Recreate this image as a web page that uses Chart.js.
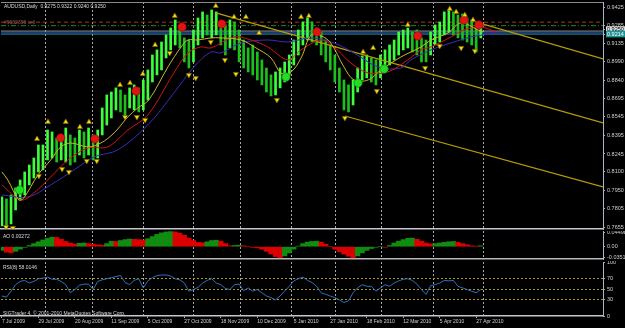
<!DOCTYPE html>
<html>
<head>
<meta charset="utf-8">
<title>AUDUSD,Daily</title>
<script src="https://cdn.jsdelivr.net/npm/chart.js@4.4.1/dist/chart.umd.min.js"></script>
<style>
  html, body { margin: 0; padding: 0; background: #000; }
  body { width: 625px; height: 328px; position: relative; overflow: hidden; font-family: "Liberation Sans", Arial, sans-serif; }
  canvas { position: absolute; left: 0; }
  .lbl { position: absolute; font-size: 5px; line-height: 6px; color: #dcdcdc; white-space: pre; }
</style>
</head>
<body>
<canvas id="mainChart" width="625" height="231" style="top:0"></canvas>
<canvas id="aoChart" width="625" height="30" style="top:231px"></canvas>
<canvas id="rsiChart" width="625" height="67" style="top:261px"></canvas>

<div class="lbl" style="left:4px;top:3px">AUDUSD,Daily  0.9275 0.9322 0.9240 0.9250</div>
<div class="lbl" style="left:4px;top:19px;color:#9a5a50">#9082396 sell</div>
<div class="lbl" style="left:3px;top:233px">AO 0.00272</div>
<div class="lbl" style="left:3px;top:264px">RSI(8) 58.0146</div>
<div class="lbl" style="left:3px;top:310px">SIGTrader 4, © 2001-2010 MetaQuotes Software Corp.</div>

<script>
// x positions are 2-day bar numbers, 0 = 7 Jul 2009
const dateLabels = ['7 Jul 2009', '29 Jul 2009', '20 Aug 2009', '11 Sep 2009', '5 Oct 2009', '27 Oct 2009',
  '18 Nov 2009', '10 Dec 2009', '5 Jan 2010', '27 Jan 2010', '18 Feb 2010', '12 Mar 2010', '5 Apr 2010', '27 Apr 2010'];
const dateTickPos = [0, 8, 16, 24, 32, 40, 48, 56, 64, 72, 80, 88, 96, 104];
const monthStarts = [9.65, 19.96, 31.1, 42.1, 52.4, 63.4, 73.2, 83.3, 94.7, 105.7];

const priceTicks = [0.9425, 0.9285, 0.9135, 0.8990, 0.8840, 0.8695, 0.8545, 0.8395, 0.8245, 0.8100, 0.7950, 0.7805, 0.7655];
const bidPrice = 0.9250;
const linePrice = 0.9214;

const barHigh = [
  0.7898, 0.7882, 0.7914, 0.7971, 0.8035, 0.8100, 0.8156, 0.8213, 0.8318, 0.8318,
  0.8439, 0.8423, 0.8374, 0.8399, 0.8455, 0.8399, 0.8374, 0.8439, 0.8423, 0.8455,
  0.8399, 0.8439, 0.8617, 0.8722, 0.8746, 0.8779, 0.8762, 0.8722, 0.8779, 0.8803,
  0.8779, 0.8843, 0.8924, 0.9045, 0.9086, 0.9150, 0.9207, 0.9263, 0.9328, 0.9263,
  0.9183, 0.9166, 0.9247, 0.9344, 0.9393, 0.9368, 0.9409, 0.9393, 0.9312, 0.9288,
  0.9328, 0.9312, 0.9247, 0.9166, 0.9102, 0.9126, 0.9069, 0.9005, 0.8940, 0.8884,
  0.8908, 0.8940, 0.8989, 0.9045, 0.9166, 0.9247, 0.9312, 0.9344, 0.9312, 0.9263,
  0.9231, 0.9166, 0.9126, 0.9045, 0.8940, 0.8843, 0.8803, 0.8843, 0.8940, 0.9037,
  0.9045, 0.9021, 0.9005, 0.9045, 0.9086, 0.9126, 0.9166, 0.9231, 0.9247, 0.9263,
  0.9231, 0.9247, 0.9183, 0.9166, 0.9231, 0.9288, 0.9312, 0.9393, 0.9409, 0.9393,
  0.9368, 0.9376, 0.9344, 0.9328, 0.9312, 0.9288
];
const barLow = [
  0.7664, 0.7647, 0.7680, 0.7793, 0.7874, 0.7914, 0.7995, 0.8051, 0.8100, 0.8116,
  0.8197, 0.8213, 0.8180, 0.8197, 0.8180, 0.8156, 0.8180, 0.8237, 0.8213, 0.8237,
  0.8197, 0.8213, 0.8399, 0.8479, 0.8536, 0.8601, 0.8585, 0.8560, 0.8617, 0.8601,
  0.8585, 0.8601, 0.8681, 0.8827, 0.8884, 0.8924, 0.9021, 0.9086, 0.9126, 0.9102,
  0.8989, 0.8940, 0.8989, 0.9126, 0.9183, 0.9207, 0.9183, 0.9207, 0.9126, 0.9045,
  0.9102, 0.9086, 0.8989, 0.8940, 0.8908, 0.8884, 0.8843, 0.8803, 0.8746, 0.8714,
  0.8722, 0.8779, 0.8827, 0.8884, 0.8964, 0.9045, 0.9126, 0.9166, 0.9150, 0.9126,
  0.9045, 0.8989, 0.8924, 0.8827, 0.8746, 0.8601, 0.8585, 0.8641, 0.8746, 0.8843,
  0.8860, 0.8827, 0.8803, 0.8860, 0.8908, 0.8964, 0.9005, 0.9045, 0.9086, 0.9102,
  0.9069, 0.9045, 0.8989, 0.8989, 0.9045, 0.9126, 0.9150, 0.9207, 0.9231, 0.9207,
  0.9183, 0.9166, 0.9150, 0.9126, 0.9069, 0.9183
];

// moving averages, [bar, price]
const maYellow = [[0, 0.8100], [1.3, 0.8035], [3.7, 0.7874], [4.8, 0.7890], [7.9, 0.8076], [10.7, 0.8197],
  [12.9, 0.8302], [15.1, 0.8334], [18.9, 0.8302], [21.7, 0.8334], [24.6, 0.8415], [27.6, 0.8544],
  [29.8, 0.8617], [32.2, 0.8681], [36.4, 0.8948], [39.3, 0.9110], [40.8, 0.9166], [43, 0.9166],
  [45.8, 0.9183], [48, 0.9183], [52.4, 0.9166], [55.7, 0.9102], [59, 0.9021], [61.2, 0.8900],
  [63.4, 0.8908], [65.6, 0.9021], [67.8, 0.9207], [70, 0.9199], [72.1, 0.9142], [75, 0.8948],
  [77.2, 0.8843], [80.3, 0.8843], [83.1, 0.8924], [87.5, 0.9029], [91.9, 0.9110], [94.1, 0.9166],
  [97.8, 0.9223], [100.7, 0.9304], [104.4, 0.9247], [105.5, 0.9231]];
const maRed = [[0, 0.7995], [4.2, 0.7874], [7, 0.7930], [10.7, 0.8059], [14.5, 0.8197], [18.9, 0.8294],
  [23.2, 0.8302], [27.6, 0.8439], [32, 0.8560], [37.7, 0.8900], [40.8, 0.9061], [43.6, 0.9110],
  [45.8, 0.9102], [50.9, 0.9191], [54.6, 0.9166], [58.3, 0.9110], [62.7, 0.9005], [65.6, 0.9086],
  [70, 0.9166], [72.8, 0.9110], [76.5, 0.8981], [80.3, 0.8900], [84.6, 0.8908], [89, 0.9005],
  [91.9, 0.9086], [94.1, 0.9110], [98.5, 0.9191], [101.3, 0.9247], [105, 0.9271], [108.3, 0.9231]];
const maBlue = [[0, 0.7914], [5.7, 0.7898], [10.7, 0.7995], [15.8, 0.8116], [20.2, 0.8221], [25.4, 0.8278],
  [32, 0.8480], [37.7, 0.8738], [42.1, 0.8948], [45.8, 0.9069], [48, 0.9061], [52.4, 0.9142],
  [58.3, 0.9166], [62.7, 0.9150], [67.8, 0.9183], [72.8, 0.9142], [77.2, 0.9061], [82.5, 0.8948],
  [87.5, 0.8940], [89.7, 0.9005], [94.1, 0.9086], [98.5, 0.9142], [102.9, 0.9191], [108.8, 0.9223]];

// fractal arrows and signal dots, [bar, price]
const upArrows = [[7.7, 0.8367], [10.1, 0.8504], [14, 0.8504], [17.1, 0.8463], [19.1, 0.8504], [25.9, 0.8803],
  [28.1, 0.8819], [30.9, 0.8892], [33.6, 0.9126], [37.9, 0.9360], [46.9, 0.9441], [50.9, 0.9352],
  [53.5, 0.9352], [56.4, 0.9223], [65.6, 0.9352], [67.3, 0.9360], [79.2, 0.9069], [81.4, 0.9102],
  [89, 0.9288], [98.2, 0.9417], [99.6, 0.9393], [101.5, 0.9368], [103.3, 0.9328]];
const downArrows = [[0.9, 0.7655], [2.4, 0.7648], [8.1, 0.8068], [13.2, 0.8124], [14.7, 0.8100], [18.6, 0.8189],
  [20.8, 0.8189], [27, 0.8544], [29.6, 0.8544], [31.4, 0.8520], [36.8, 0.9061], [41, 0.8884],
  [42.5, 0.8859], [45.8, 0.9150], [48.9, 0.9005], [51.3, 0.8892], [60.3, 0.8682], [75.2, 0.8536],
  [82.2, 0.8754], [92.8, 0.8940], [96, 0.9118], [100.7, 0.9102], [103.7, 0.9078]];
const sellDots = [[12.9, 0.8375], [20.4, 0.8367], [29.4, 0.8754], [39.5, 0.9271], [48.2, 0.9296],
  [69.1, 0.9231], [91.2, 0.9199], [101.3, 0.9328], [104.6, 0.9288]];
const buyDots = [[3.9, 0.7954], [62.3, 0.8867], [78.1, 0.8819], [83.8, 0.8932]];

// order / price lines across the whole chart
const sellLevel = 0.9310;
const stopLevel = 0.9282;
const greyLevel = 0.9238;
const navyLevel = 0.9225;

// parallel channel, [bar, price] at each end
const channelUpper = [[104.6, 0.9304], [131.8, 0.9013]];
const channelMiddle = [[46.9, 0.9385], [131.8, 0.8496]];
const channelLower = [[75.2, 0.8552], [131.8, 0.7979]];

const aoValues = [
  -0.012, -0.018, -0.020, -0.015, -0.008, -0.002, 0.004, 0.010, 0.016, 0.022,
  0.027, 0.031, 0.030, 0.024, 0.017, 0.012, 0.009, 0.011, 0.012, 0.010,
  0.008, 0.006, 0.005, 0.010, 0.018, 0.017, 0.020, 0.023, 0.025, 0.024,
  0.023, 0.022, 0.026, 0.033, 0.040, 0.045, 0.048, 0.049, 0.048, 0.044,
  0.037, 0.028, 0.020, 0.014, 0.013, 0.016, 0.020, 0.021, 0.018, 0.010,
  0.003, 0.004, 0.005, 0.003, 0.000, -0.002, -0.004, -0.008, -0.015, -0.024,
  -0.032, -0.036, -0.030, -0.020, -0.008, 0.002, 0.010, 0.015, 0.017, 0.018,
  0.015, 0.008, 0.000, -0.008, -0.016, -0.024, -0.031, -0.036, -0.030, -0.020,
  -0.012, -0.006, -0.002, 0.000, -0.002, 0.004, 0.012, 0.018, 0.023, 0.027,
  0.028, 0.024, 0.018, 0.012, 0.009, 0.010, 0.012, 0.014, 0.016, 0.017,
  0.014, 0.010, 0.006, 0.003, 0.002, 0.003
];
const aoTicks = [0.04498, 0, -0.03512];
const aoTickLabels = ['0.04498', '0.00', '-0.03512'];

const rsiValues = [
  37, 35, 46, 58, 64, 66, 61, 64, 69, 70,
  72, 68, 68, 64, 58, 43, 49, 57, 59, 59,
  49, 64, 67, 69, 71, 73, 75, 62, 58, 66,
  69, 52, 65, 71, 75, 76, 76, 74, 69, 67,
  61, 46, 49, 53, 61, 66, 69, 61, 58, 51,
  49, 58, 59, 47, 52, 46, 49, 43, 37, 34,
  30, 37, 46, 55, 65, 69, 72, 66, 62, 55,
  43, 40, 37, 34, 30, 25, 28, 43, 52, 58,
  55, 55, 46, 52, 58, 55, 61, 65, 68, 69,
  66, 59, 49, 40, 56, 58, 61, 66, 65, 66,
  55, 52, 49, 46, 43, 49
];
const rsiTicks = [100, 70, 50, 30, 0];
const rsiLevels = [70, 50, 30];


Chart.defaults.font.family = '"Liberation Sans", Arial, sans-serif';
Chart.defaults.font.size = 5.5;
Chart.defaults.color = '#d0d0d0';
Chart.defaults.animation = false;
Chart.defaults.plugins.legend.display = false;
Chart.defaults.plugins.tooltip.enabled = false;

const X_MIN = -0.2, X_MAX = 131.8;
const pts = arr => arr.map(p => ({ x: p[0], y: p[1] }));
const flat = v => [{ x: X_MIN, y: v }, { x: X_MAX, y: v }];

// chart.js keeps room for half a label above/below the axes, we don't want it
function tight(a) {
  a.paddingLeft = 0; a.paddingRight = 0; a.paddingTop = 0; a.paddingBottom = 0;
}

function monthGridAxis(position, borderColor) {
  return {
    type: 'linear', position: position, min: X_MIN, max: X_MAX, offset: false,
    grid: { offset: false, color: '#a9a9a9', lineWidth: 1, drawTicks: false },
    border: { display: !!borderColor, color: borderColor || '#000', width: 1.5, dash: [2, 2] },
    ticks: { display: false },
    afterBuildTicks: a => { a.ticks = monthStarts.map(v => ({ value: v })); },
    afterFit: a => { a.height = 0; tight(a); }
  };
}

function frameAxis(position, color) {
  return {
    type: 'linear', position: position, min: X_MIN, max: X_MAX, offset: false,
    grid: { display: false, offset: false },
    border: { display: true, color: color, width: 1 },
    ticks: { display: false },
    afterFit: a => { a.height = 0; tight(a); }
  };
}

function markers(data, style, rotation, bg, border, radius) {
  return {
    type: 'line', data: pts(data), showLine: false, order: 0,
    pointStyle: style, pointRotation: rotation, pointRadius: radius,
    pointBackgroundColor: bg, pointBorderColor: border, pointBorderWidth: 0.6
  };
}

function plainLine(data, color, width, dash, order) {
  return {
    type: 'line', data: data, borderColor: color, borderWidth: width, borderDash: dash || [],
    pointRadius: 0, fill: false, order: order
  };
}

// ---- price panel ----
const barColors = barHigh.map((h, i) => {
  if (i === 0) return '#3cff3c';
  return (h + barLow[i]) >= (barHigh[i - 1] + barLow[i - 1]) ? '#3cff3c' : '#1cc01c';
});

new Chart(document.getElementById('mainChart'), {
  type: 'bar',
  data: {
    datasets: [
      markers(upArrows, 'triangle', 0, '#f2dc10', '#7a6400', 3),
      markers(downArrows, 'triangle', 180, '#f2dc10', '#7a6400', 3),
      markers(sellDots, 'circle', 0, '#e01414', '#a00000', 4.2),
      markers(buyDots, 'circle', 0, '#22dd22', '#0b7a0b', 4.2),
      Object.assign(plainLine(pts(maYellow), '#c9b62a', 1, null, 1), { tension: 0.35 }),
      Object.assign(plainLine(pts(maRed), '#d41414', 1, null, 1), { tension: 0.35 }),
      Object.assign(plainLine(pts(maBlue), '#3a2cb8', 1, null, 1), { tension: 0.35 }),
      plainLine(pts(channelUpper), '#b89c08', 1.2, null, 1),
      plainLine(pts(channelMiddle), '#b89c08', 1.2, null, 1),
      plainLine(pts(channelLower), '#b89c08', 1.2, null, 1),
      {
        type: 'bar', order: 2, barThickness: 2,
        data: barHigh.map((h, i) => ({ x: i, y: [barLow[i], h] })),
        backgroundColor: barColors, borderWidth: 0
      },
      plainLine(flat(sellLevel), '#b03022', 1, [4, 3], 3),
      plainLine(flat(stopLevel), '#1c8c1c', 1, [5, 2, 1, 2], 3),
      plainLine(flat(greyLevel), '#8c96aa', 1, null, 3),
      plainLine(flat(navyLevel), '#2c3c9c', 1, null, 3),
      plainLine(flat(linePrice), '#1fa6a6', 1, null, 3)
    ]
  },
  options: {
    responsive: false,
    layout: { padding: { left: 1, top: 2, right: 0, bottom: 2 }, autoPadding: false },
    scales: {
      x: monthGridAxis('bottom', '#c4c6d0'),
      xt: frameAxis('top', '#8a8a8a'),
      y: {
        type: 'linear', position: 'right', min: 0.7639, max: 0.9473,
        grid: { drawOnChartArea: false, tickLength: 2, color: '#9aaabb' },
        border: { color: '#a8b8c8', width: 1 },
        ticks: {
          autoSkip: false, padding: 2,
          callback: v => Number(v).toFixed(4),
          color: c => c.tick && c.tick.value === bidPrice ? '#000' : (c.tick && c.tick.value === linePrice ? '#fff' : '#d0d0d0'),
          showLabelBackdrop: c => !!c.tick && (c.tick.value === bidPrice || c.tick.value === linePrice),
          backdropColor: c => c.tick && c.tick.value === bidPrice ? '#dcdcdc' : '#1a9494',
          backdropPadding: { left: 1, right: 3, top: 0, bottom: 0 }
        },
        afterBuildTicks: a => { a.ticks = priceTicks.concat([bidPrice, linePrice]).map(v => ({ value: v })); },
        afterFit: a => { a.width = 22; tight(a); }
      }
    }
  }
});

// ---- AO panel ----
const aoColors = aoValues.map((v, i) => (i > 0 && v < aoValues[i - 1]) ? '#dc0000' : '#108c10');

new Chart(document.getElementById('aoChart'), {
  type: 'bar',
  data: {
    datasets: [{
      data: aoValues.map((v, i) => ({ x: i, y: v })),
      backgroundColor: aoColors, borderWidth: 0, grouped: false,
      barPercentage: 1, categoryPercentage: 1
    }]
  },
  options: {
    responsive: false,
    layout: { padding: { left: 1, top: 0, right: 0, bottom: 2 }, autoPadding: false },
    scales: {
      x: monthGridAxis('bottom', '#b8b8c0'),
      y: {
        type: 'linear', position: 'right', min: -0.040, max: 0.051,
        grid: { drawOnChartArea: false, tickLength: 2, color: '#9aaabb' },
        border: { color: '#a8b8c8', width: 1 },
        ticks: { autoSkip: false, padding: 2, callback: (v, i) => aoTickLabels[i] },
        afterBuildTicks: a => { a.ticks = aoTicks.map(v => ({ value: v })); },
        afterFit: a => { a.width = 22; tight(a); }
      }
    }
  }
});

// ---- RSI panel ----
new Chart(document.getElementById('rsiChart'), {
  type: 'line',
  data: {
    datasets: [{
      data: rsiValues.map((v, i) => ({ x: i, y: v })),
      borderColor: '#2f6fc4', borderWidth: 1, pointRadius: 0, tension: 0, xAxisID: 'x'
    }]
  },
  options: {
    responsive: false,
    layout: { padding: { left: 1, top: 1, right: 0, bottom: 0 }, autoPadding: false },
    scales: {
      x: {
        type: 'linear', position: 'bottom', min: X_MIN, max: X_MAX, offset: false,
        grid: { drawOnChartArea: false, offset: false, tickLength: 2, color: '#b0b0b0' },
        border: { color: '#c4c6d0', width: 1.5 },
        ticks: { autoSkip: false, maxRotation: 0, align: 'start', padding: 1, font: { size: 5 },
          callback: (v, i) => dateLabels[i] },
        afterBuildTicks: a => { a.ticks = dateTickPos.map(v => ({ value: v })); },
        afterFit: a => { a.height = 12; tight(a); }
      },
      xg: monthGridAxis('top', null),
      y: {
        type: 'linear', position: 'right', min: 0, max: 100,
        grid: {
          color: c => c.tick && rsiLevels.includes(c.tick.value) ? '#a99a1e' : 'rgba(0,0,0,0)',
          tickColor: '#9aaabb', tickLength: 2
        },
        border: { color: '#a8b8c8', width: 1, dash: [2, 2] },
        ticks: { autoSkip: false, padding: 2 },
        afterBuildTicks: a => { a.ticks = rsiTicks.map(v => ({ value: v })); },
        afterFit: a => { a.width = 22; tight(a); }
      }
    }
  }
});
</script>
</body>
</html>
